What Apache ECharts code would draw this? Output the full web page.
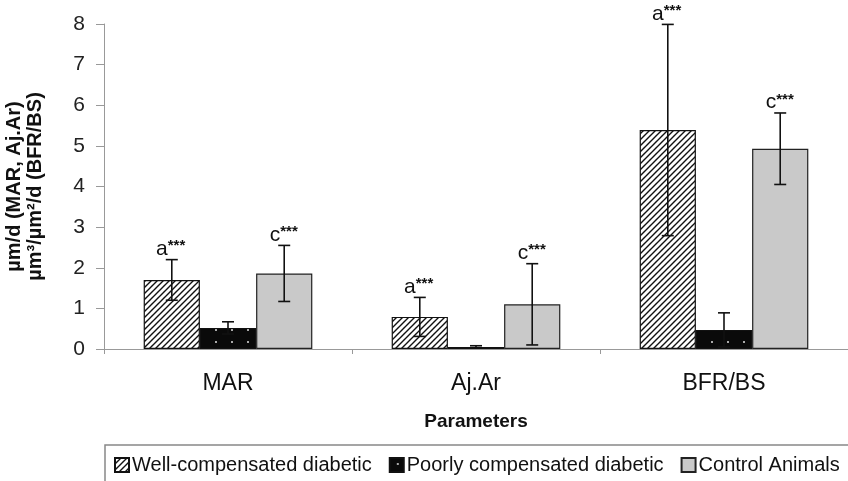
<!DOCTYPE html>
<html>
<head>
<meta charset="utf-8">
<script src="https://cdn.jsdelivr.net/npm/echarts@6/dist/echarts.min.js"></script>
<style>
  html, body { margin: 0; padding: 0; background: #fff; }
  #chart { width: 848px; height: 481px; }
</style>
</head>
<body>
<div id="chart"></div>
<script>
// data
const categories = ['MAR', 'Aj.Ar', 'BFR/BS'];
const seriesNames = ['Well-compensated diabetic', 'Poorly compensated diabetic', 'Control Animals'];
const wellMean = [1.70, 0.79, 5.39];
const wellSd = [0.50, 0.48, 2.60];
const poorMean = [0.52, 0.05, 0.47];
const poorSd = [0.15, 0.03, 0.42];
const ctrlMean = [1.86, 1.10, 4.93];
const ctrlSd = [0.69, 1.00, 0.88];
const wellMarks = ['a', 'a', 'a'];
const ctrlMarks = ['c', 'c', 'c'];

// fill patterns
function hatchPattern() {
    const c = document.createElement('canvas');
    c.width = 6; c.height = 6;
    const ctx = c.getContext('2d');
    ctx.fillStyle = '#fff';
    ctx.fillRect(0, 0, 6, 6);
    ctx.strokeStyle = '#111';
    ctx.lineWidth = 1.4;
    ctx.beginPath();
    ctx.moveTo(-1, 7); ctx.lineTo(7, -1);
    ctx.moveTo(-1, 1); ctx.lineTo(1, -1);
    ctx.moveTo(5, 7); ctx.lineTo(7, 5);
    ctx.stroke();
    return c;
}
function dotPattern() {
    const c = document.createElement('canvas');
    c.width = 16; c.height = 12;
    const ctx = c.getContext('2d');
    ctx.fillStyle = '#0a0a0a';
    ctx.fillRect(0, 0, 16, 12);
    ctx.fillStyle = '#aaa';
    ctx.fillRect(7, 5, 2, 2);
    return c;
}

// error bars: [catIndex, barIndex, low, high, mark]
const errData = [];
[wellMean, poorMean, ctrlMean].forEach((m, b) => {
    const sd = [wellSd, poorSd, ctrlSd][b];
    const marks = b === 0 ? wellMarks : (b === 2 ? ctrlMarks : ['', '', '']);
    m.forEach((v, i) => errData.push([i, b, v - sd[i], v + sd[i], marks[i]]));
});

const barShare = 0.68;

const chart = echarts.init(document.getElementById('chart'));
chart.setOption({
    animation: false,
    textStyle: { fontFamily: 'Liberation Sans, Arial, sans-serif' },
    grid: { left: 104, right: 0, top: 24, bottom: 132, outerBoundsMode: 'none', containLabel: false },
    legend: {
        data: seriesNames,
        icon: 'rect',
        left: 105, top: 445, width: 800,
        padding: [10, 40, 14, 9],
        borderColor: '#888', borderWidth: 1.5,
        itemWidth: 14, itemHeight: 14, itemGap: 17,
        textStyle: { fontSize: 20, color: '#111', padding: [0, 0, 0, -2] }
    },
    xAxis: {
        type: 'category',
        data: categories,
        name: 'Parameters',
        nameLocation: 'middle',
        nameGap: 63,
        nameTextStyle: { fontSize: 19, fontWeight: 'bold', color: '#111' },
        axisLine: { lineStyle: { color: '#999' } },
        axisTick: { show: true, length: 5, lineStyle: { color: '#999' } },
        axisLabel: { fontSize: 23, color: '#111', margin: 23 }
    },
    yAxis: {
        type: 'value',
        min: 0, max: 8, interval: 1,
        name: 'µm/d (MAR, Aj.Ar)\nµm³/µm²/d (BFR/BS)',
        nameLocation: 'middle',
        nameGap: 58,
        nameTextStyle: { fontSize: 20, fontWeight: 'bold', color: '#111', lineHeight: 21 },
        splitLine: { show: false },
        axisLine: { show: true, lineStyle: { color: '#999' } },
        axisTick: { show: true, length: 8, lineStyle: { color: '#999' } },
        axisLabel: { fontSize: 21, color: '#222', margin: 19 }
    },
    series: [
        {
            name: seriesNames[0], type: 'bar', data: wellMean,
            barGap: '0%', barCategoryGap: '32%',
            itemStyle: { color: { image: hatchPattern(), repeat: 'repeat' }, borderColor: '#111', borderWidth: 1.2 }
        },
        {
            name: seriesNames[1], type: 'bar', data: poorMean,
            itemStyle: { color: { image: dotPattern(), repeat: 'repeat' }, borderColor: '#111', borderWidth: 1.2 }
        },
        {
            name: seriesNames[2], type: 'bar', data: ctrlMean,
            itemStyle: { color: '#c9c9c9', borderColor: '#222', borderWidth: 1.2 }
        },
        {
            name: 'err', type: 'custom', data: errData, z: 10,
            renderItem: function (params, api) {
                const cat = api.value(0), b = api.value(1);
                const band = api.size([1, 0])[0];
                const bw = band * barShare / 3;
                const c0 = api.coord([cat, 0]);
                const x = c0[0] + (b - 1) * bw;
                const yLo = api.coord([cat, api.value(2)])[1];
                const yHi = api.coord([cat, api.value(3)])[1];
                const st = { stroke: '#111', lineWidth: 1.6 };
                const kids = [
                    { type: 'line', shape: { x1: x, y1: yLo, x2: x, y2: yHi }, style: st },
                    { type: 'line', shape: { x1: x - 6, y1: yHi, x2: x + 6, y2: yHi }, style: st },
                    { type: 'line', shape: { x1: x - 6, y1: yLo, x2: x + 6, y2: yLo }, style: st }
                ];
                const mark = api.value(4);
                if (mark) {
                    kids.push({ type: 'text', style: { text: mark, x: x - 4, y: yHi, align: 'right', verticalAlign: 'bottom', fontSize: 21, fill: '#111', fontFamily: 'Liberation Sans' } });
                    kids.push({ type: 'text', style: { text: '***', x: x - 4, y: yHi - 21, align: 'left', verticalAlign: 'top', fontSize: 15, fontWeight: 'bold', fill: '#111', fontFamily: 'Liberation Sans' } });
                }
                return { type: 'group', children: kids };
            }
        }
    ]
});
</script>
</body>
</html>
